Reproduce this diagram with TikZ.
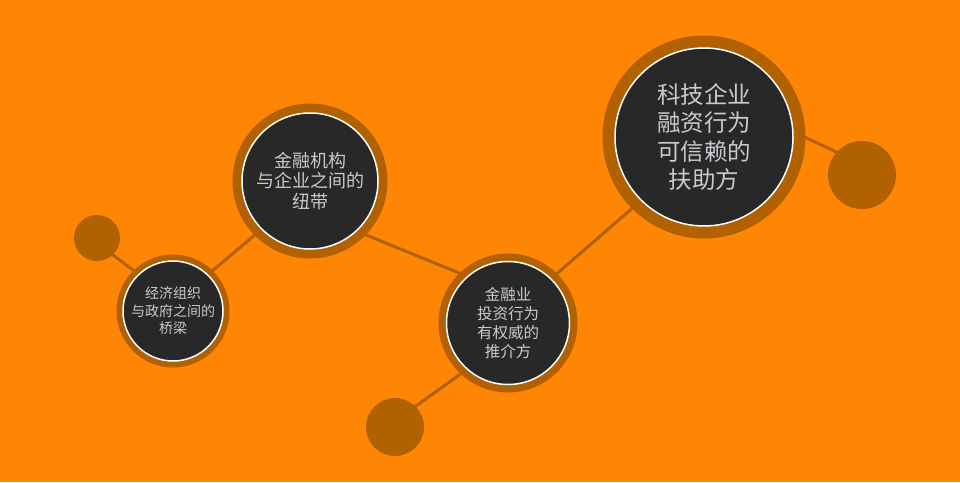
\documentclass[tikz,border=0pt]{standalone}
\usepackage{fontspec}
\setmainfont{Noto Sans CJK SC}
\usetikzlibrary{backgrounds}
\definecolor{bgorange}{RGB}{255,133,5}
\definecolor{ringbrown}{RGB}{178,97,0}
\definecolor{hubfill}{RGB}{40,40,40}
\definecolor{hubtext}{RGB}{200,202,208}

\begin{document}
\begin{tikzpicture}[
  x=1pt, y=-1pt,
  hub/.style={circle, inner sep=0pt, outer sep=0pt, fill=hubfill, draw=white,
    line width=1.5pt, text=hubtext, align=center,
    preaction={draw=ringbrown, line width=#1}},
  dot/.style={circle, inner sep=0pt, outer sep=0pt, fill=ringbrown},
  link/.style={draw=ringbrown, line width=3pt}
]
\useasboundingbox (0,0) rectangle (960,482);

\node (bridge) [hub=13pt, minimum size=100pt, font=\fontsize{14}{17.5}\selectfont] at (173,311) {经济组织\\与政府之间的\\桥梁};
\node (tie) [hub=19pt, minimum size=136pt, font=\fontsize{18}{20.5}\selectfont] at (310,181) {金融机构\\与企业之间的\\纽带};
\node (advisor) [hub=16pt, minimum size=123pt, font=\fontsize{15.5}{19}\selectfont] at (508,323) {金融业\\投资行为\\有权威的\\推介方};
\node (helper) [hub=25pt, minimum size=178pt, font=\fontsize{23.5}{28.5}\selectfont] at (704,137) {科技企业\\融资行为\\可信赖的\\扶助方};

\node (dotA) [dot, minimum size=46pt] at (97,238) {};
\node (dotB) [dot, minimum size=58pt] at (395,427) {};
\node (dotC) [dot, minimum size=68pt] at (862,175) {};

\begin{scope}[on background layer]
\fill [bgorange] (0,0) rectangle (960,482);
\draw [link] ([yshift=-5pt]dotA.center) -- ([yshift=11pt]bridge.center);
\draw [link] ([yshift=7pt]bridge.center) -- ([yshift=-7.5pt]tie.center);
\draw [link] ([yshift=-31pt]tie.center) -- ([yshift=30pt]advisor.center);
\draw [link] ([yshift=-17pt]advisor.center) -- ([yshift=6pt]dotB.center);
\draw [link] ([yshift=7pt]advisor.center) -- ([yshift=-9pt]helper.center);
\draw [link] ([yshift=47pt]helper.center) -- ([yshift=11pt]dotC.center);
\end{scope}

\end{tikzpicture}
\end{document}
